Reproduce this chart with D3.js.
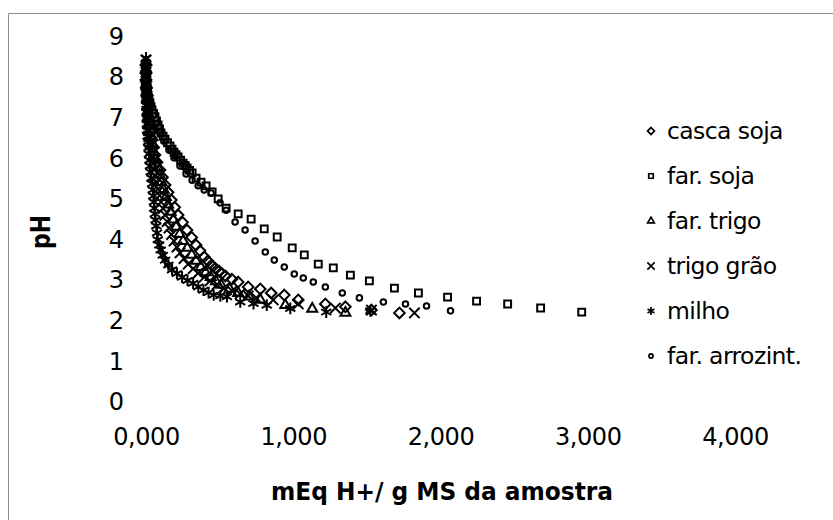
<!DOCTYPE html>
<html>
<head>
<meta charset="utf-8">
<script src="https://cdn.jsdelivr.net/npm/d3@7"></script>
<style>
  html, body { margin: 0; padding: 0; background: #fff; }
  svg { display: block; font-family: "DejaVu Sans", sans-serif; }
</style>
</head>
<body>
<svg id="chart" width="833" height="520"></svg>
<script>
// Titration curves: pH versus acid added (mEq H+ / g MS) for six feed ingredients.
// Each series is a list of [mEq H+/g, pH] readings.

const seriesNames = ["casca soja", "far. soja", "far. trigo", "trigo grão", "milho", "far. arrozint."];

const cascaSoja = [[0.000,8.28],[0.000,8.10],[0.000,7.91],[0.003,7.73],[0.007,7.54],[0.010,7.36],[0.014,7.17],[0.020,6.99],[0.027,6.80],[0.034,6.62],[0.041,6.43],[0.051,6.25],[0.061,6.06],[0.075,5.88],[0.095,5.69],[0.112,5.51],[0.130,5.32],[0.150,5.14],[0.172,4.95],[0.195,4.77],[0.218,4.58],[0.248,4.40],[0.278,4.21],[0.310,4.03],[0.340,3.84],[0.367,3.70],[0.395,3.55],[0.420,3.45],[0.445,3.35],[0.470,3.27],[0.495,3.20],[0.515,3.14],[0.540,3.08],[0.583,3.00],[0.626,2.93],[0.694,2.81],[0.776,2.76],[0.850,2.66],[0.939,2.61],[1.034,2.49],[1.218,2.39],[1.354,2.32],[1.531,2.24],[1.721,2.17]];

const farSoja = [[0.000,8.03],[0.003,7.90],[0.007,7.78],[0.010,7.66],[0.014,7.54],[0.020,7.44],[0.027,7.34],[0.034,7.25],[0.041,7.17],[0.051,7.08],[0.061,7.00],[0.071,6.90],[0.082,6.80],[0.092,6.70],[0.102,6.60],[0.116,6.52],[0.129,6.45],[0.146,6.36],[0.163,6.28],[0.177,6.20],[0.190,6.13],[0.204,6.07],[0.218,6.01],[0.235,5.93],[0.252,5.86],[0.266,5.80],[0.279,5.74],[0.296,5.68],[0.313,5.62],[0.340,5.49],[0.374,5.39],[0.408,5.30],[0.449,5.15],[0.490,4.98],[0.544,4.75],[0.626,4.61],[0.714,4.48],[0.803,4.24],[0.891,4.04],[0.993,3.77],[1.075,3.60],[1.170,3.37],[1.272,3.28],[1.388,3.10],[1.517,2.96],[1.687,2.78],[1.850,2.66],[2.048,2.56],[2.245,2.46],[2.456,2.39],[2.680,2.29],[2.959,2.19]];

const farTrigo = [[0.000,8.35],[0.000,8.15],[0.000,7.96],[0.003,7.78],[0.007,7.61],[0.010,7.42],[0.014,7.24],[0.020,7.05],[0.027,6.87],[0.034,6.68],[0.041,6.50],[0.048,6.31],[0.054,6.13],[0.065,5.94],[0.078,5.76],[0.092,5.57],[0.105,5.39],[0.120,5.20],[0.135,5.02],[0.150,4.84],[0.167,4.66],[0.186,4.47],[0.205,4.29],[0.228,4.11],[0.252,3.94],[0.280,3.77],[0.310,3.60],[0.340,3.45],[0.372,3.30],[0.405,3.17],[0.440,3.05],[0.475,2.95],[0.510,2.86],[0.568,2.76],[0.626,2.66],[0.700,2.57],[0.776,2.49],[0.946,2.36],[1.129,2.27],[1.354,2.17]];

const trigoGrao = [[0.000,8.40],[0.000,8.25],[0.000,8.10],[0.000,7.94],[0.000,7.78],[0.000,7.62],[0.002,7.46],[0.004,7.30],[0.007,7.14],[0.010,6.98],[0.014,6.82],[0.017,6.66],[0.020,6.50],[0.027,6.34],[0.034,6.18],[0.041,6.02],[0.048,5.86],[0.054,5.70],[0.061,5.54],[0.071,5.38],[0.082,5.22],[0.092,5.06],[0.102,4.90],[0.116,4.74],[0.129,4.58],[0.143,4.42],[0.156,4.26],[0.173,4.10],[0.190,3.94],[0.210,3.79],[0.231,3.65],[0.258,3.51],[0.286,3.37],[0.320,3.26],[0.354,3.15],[0.395,3.05],[0.435,2.96],[0.483,2.87],[0.531,2.78],[0.585,2.71],[0.639,2.64],[0.694,2.59],[0.748,2.54],[0.864,2.49],[1.034,2.39],[1.286,2.29],[1.531,2.24],[1.823,2.17]];

const milho = [[0.000,8.45],[0.000,8.30],[0.000,8.15],[0.000,8.00],[0.000,7.86],[0.000,7.71],[0.002,7.56],[0.002,7.41],[0.003,7.27],[0.005,7.12],[0.005,6.97],[0.006,6.82],[0.008,6.67],[0.011,6.52],[0.014,6.38],[0.017,6.23],[0.020,6.08],[0.024,5.93],[0.027,5.79],[0.032,5.64],[0.037,5.49],[0.042,5.35],[0.046,5.20],[0.050,5.05],[0.054,4.90],[0.057,4.75],[0.060,4.61],[0.065,4.46],[0.070,4.31],[0.075,4.14],[0.080,3.97],[0.090,3.84],[0.100,3.72],[0.114,3.59],[0.130,3.47],[0.152,3.35],[0.177,3.23],[0.210,3.14],[0.245,3.05],[0.282,2.97],[0.320,2.90],[0.355,2.81],[0.390,2.73],[0.425,2.67],[0.460,2.61],[0.505,2.59],[0.550,2.57],[0.640,2.44],[0.730,2.40],[0.820,2.36],[0.980,2.28],[1.224,2.19],[1.524,2.22]];

const farArrozInt = [[0.000,8.15],[0.000,7.86],[0.014,7.54],[0.027,7.29],[0.048,7.04],[0.068,6.82],[0.095,6.60],[0.122,6.40],[0.156,6.18],[0.190,5.99],[0.231,5.79],[0.272,5.59],[0.313,5.44],[0.354,5.30],[0.395,5.20],[0.442,5.12],[0.503,4.88],[0.544,4.70],[0.605,4.41],[0.673,4.21],[0.741,3.94],[0.810,3.67],[0.871,3.47],[0.939,3.30],[1.007,3.13],[1.068,3.03],[1.136,2.93],[1.218,2.81],[1.333,2.66],[1.449,2.54],[1.612,2.44],[1.762,2.39],[1.905,2.34],[2.068,2.22]];

const xTicks = [0, 1, 2, 3, 4];
const yTicks = [0, 1, 2, 3, 4, 5, 6, 7, 8, 9];

const seriesData = [cascaSoja, farSoja, farTrigo, trigoGrao, milho, farArrozInt];

const symbolTypes = [d3.symbolDiamond2, d3.symbolSquare2, d3.symbolTriangle2, d3.symbolTimes, d3.symbolAsterisk, d3.symbolCircle];
const symbolSizes = [72, 60, 72, 72, 95, 24];
const legendSizes = [30, 26, 32, 36, 44, 13];

const svg = d3.select("#chart");

// chart frame (left and top edges)
svg.append("path")
  .attr("d", "M8.5,520 L8.5,13.5 L833,13.5")
  .attr("fill", "none")
  .attr("stroke", "#8c8c8c")
  .attr("stroke-width", 1);

const x = d3.scaleLinear().domain([0, 4]).range([146, 735]);
const y = d3.scaleLinear().domain([0, 9]).range([401, 35.6]);

// y axis labels
const yAxis = d3.axisLeft(y).tickValues(yTicks).tickSize(0).tickPadding(0).tickFormat(d3.format("d"));
const gy = svg.append("g").attr("transform", "translate(124,0)").call(yAxis);
gy.select(".domain").remove();
gy.selectAll("text").attr("font-size", 24).attr("font-family", "DejaVu Sans").attr("fill", "#000").attr("dy", "0.36em");

// x axis labels
const fmt = d => d3.format(".3f")(d).replace(".", ",");
const xAxis = d3.axisBottom(x).tickValues(xTicks).tickSize(0).tickPadding(0).tickFormat(fmt);
const gx = svg.append("g").attr("transform", "translate(0,428)").call(xAxis);
gx.select(".domain").remove();
gx.selectAll("text").attr("font-size", 24).attr("font-family", "DejaVu Sans").attr("fill", "#000").attr("dy", "0.71em").attr("letter-spacing", -0.4);

// axis titles
svg.append("text")
  .attr("x", 442).attr("y", 500)
  .attr("text-anchor", "middle")
  .attr("font-size", 25).attr("font-weight", "bold")
  .attr("textLength", 342).attr("lengthAdjust", "spacingAndGlyphs")
  .text("mEq H+/ g MS da amostra");

svg.append("text")
  .attr("transform", "translate(50,232) rotate(-90)")
  .attr("text-anchor", "middle")
  .attr("font-size", 27).attr("font-weight", "bold")
  .attr("textLength", 34).attr("lengthAdjust", "spacingAndGlyphs")
  .text("pH");

// data markers
const plot = svg.append("g");
seriesNames.forEach((name, i) => {
  const sym = d3.symbol().type(symbolTypes[i]).size(symbolSizes[i]);
  plot.append("g")
    .attr("class", "series")
    .selectAll("path")
    .data(seriesData[i])
    .join("path")
    .attr("transform", d => `translate(${x(d[0])},${y(d[1])})`)
    .attr("d", sym)
    .attr("fill", "none")
    .attr("stroke", "#000")
    .attr("stroke-width", 2);
});

// legend
const legend = svg.append("g");
seriesNames.forEach((name, i) => {
  const ly = 131 + i * 45;
  legend.append("path")
    .attr("transform", `translate(651,${ly})`)
    .attr("d", d3.symbol().type(symbolTypes[i]).size(legendSizes[i]))
    .attr("fill", "none")
    .attr("stroke", "#000")
    .attr("stroke-width", 1.7);
  legend.append("text")
    .attr("x", 667).attr("y", ly)
    .attr("dy", "0.35em")
    .attr("font-size", 23.5)
    .attr("letter-spacing", -0.6)
    .attr("fill", "#000")
    .text(name);
});
</script>
</body>
</html>
